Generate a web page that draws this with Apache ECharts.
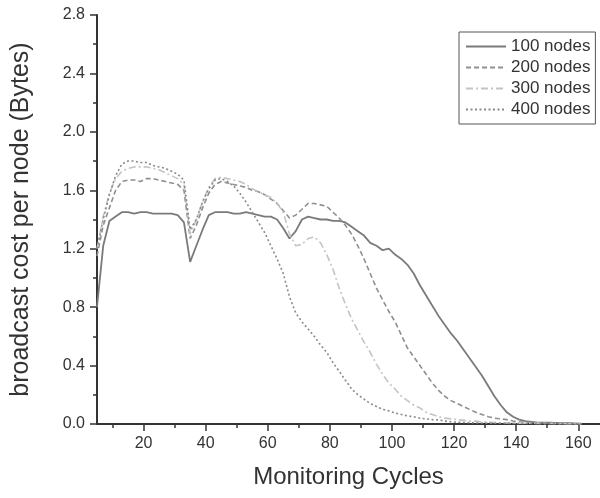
<!DOCTYPE html>
<html><head><meta charset="utf-8">
<script src="https://cdn.jsdelivr.net/npm/echarts@6/dist/echarts.min.js"></script>
<style>html,body{margin:0;padding:0;background:#fff}#c{width:600px;height:498px}</style>
</head><body><div id="c"></div>
<script>
const cycles = [5,7,9,11,13,15,17,19,21,23,25,27,29,31,33,35,37,39,41,43,45,47,49,51,53,55,57,59,61,63,65,67,69,71,73,75,77,79,81,83,85,87,89,91,93,95,97,99,101,103,105,107,109,111,113,115,117,119,121,123,125,127,129,131,133,135,137,139,141,143,145,147,149,151,153,155,157,159,161];
const nodes100 = [0.80,1.22,1.39,1.42,1.45,1.45,1.44,1.45,1.45,1.44,1.44,1.44,1.44,1.43,1.38,1.11,1.22,1.33,1.43,1.45,1.45,1.45,1.44,1.44,1.45,1.44,1.43,1.42,1.42,1.40,1.34,1.27,1.32,1.40,1.42,1.41,1.40,1.40,1.39,1.39,1.38,1.35,1.32,1.29,1.24,1.22,1.19,1.20,1.16,1.13,1.09,1.03,0.95,0.88,0.81,0.74,0.68,0.62,0.57,0.51,0.45,0.39,0.33,0.26,0.19,0.13,0.08,0.05,0.03,0.02,0.015,0.01,0.01,0.01,0.008,0.006,0.005,0.004,0.003];
const nodes200 = [1.15,1.36,1.48,1.60,1.66,1.67,1.67,1.66,1.68,1.68,1.67,1.66,1.65,1.64,1.60,1.27,1.36,1.48,1.58,1.64,1.66,1.65,1.64,1.63,1.62,1.60,1.59,1.57,1.54,1.51,1.46,1.41,1.43,1.47,1.51,1.51,1.50,1.49,1.45,1.41,1.36,1.30,1.22,1.13,1.03,0.93,0.85,0.77,0.70,0.61,0.52,0.46,0.40,0.34,0.28,0.23,0.19,0.16,0.14,0.12,0.10,0.08,0.065,0.05,0.04,0.035,0.03,0.02,0.015,0.012,0.01,0.008,0.006,0.005,0.004,0.003,0.003,0.002,0.002];
const nodes300 = [1.20,1.42,1.58,1.68,1.73,1.75,1.76,1.76,1.76,1.75,1.74,1.72,1.70,1.68,1.64,1.30,1.40,1.52,1.62,1.68,1.69,1.68,1.67,1.66,1.64,1.61,1.59,1.57,1.55,1.51,1.45,1.30,1.22,1.23,1.27,1.28,1.24,1.16,1.06,0.93,0.82,0.72,0.64,0.56,0.49,0.41,0.34,0.28,0.24,0.19,0.16,0.13,0.11,0.08,0.065,0.05,0.04,0.035,0.03,0.025,0.02,0.02,0.015,0.012,0.01,0.009,0.008,0.007,0.006,0.005,0.005,0.004,0.004,0.003,0.003,0.002,0.002,0.002,0.002];
const nodes400 = [1.20,1.40,1.57,1.70,1.78,1.80,1.80,1.79,1.79,1.77,1.76,1.75,1.73,1.71,1.67,1.33,1.40,1.52,1.61,1.67,1.68,1.66,1.63,1.58,1.52,1.45,1.38,1.31,1.22,1.13,1.03,0.87,0.76,0.70,0.65,0.60,0.54,0.49,0.42,0.36,0.30,0.24,0.20,0.17,0.14,0.12,0.10,0.09,0.075,0.065,0.055,0.05,0.04,0.035,0.03,0.028,0.02,0.015,0.012,0.01,0.009,0.008,0.007,0.006,0.005,0.005,0.004,0.004,0.003,0.003,0.003,0.002,0.002,0.002,0.002,0.002,0.001,0.001,0.001];
const seriesNames = ['100 nodes','200 nodes','300 nodes','400 nodes'];
const xLabelTicks = [20,40,60,80,100,120,140,160];
const xMinorTicks = [10,30,50,70,90,110,130,150];

const font = 'Liberation Sans, Arial, sans-serif';
const pair = arr => cycles.map((c,i)=>[c,arr[i]]);
const styles = [
  {color:'#7a7a7a', type:'solid', width:1.8},
  {color:'#8f8f8f', type:[5,3], width:1.6},
  {color:'#c4c4c4', type:[7,3,2,3], width:1.6},
  {color:'#8a8a8a', type:[2,2.5], width:1.6}
];
const datas = [nodes100,nodes200,nodes300,nodes400];
const chart = echarts.init(document.getElementById('c'));
chart.setOption({
  animation:false,
  backgroundColor:'#fff',
  grid:{left:97,right:0,top:15,bottom:74,containLabel:false},
  legend:{
    orient:'vertical', left:459, top:32,
    data:seriesNames,
    itemWidth:40, itemHeight:10, itemGap:4,
    padding:[6,5,6,6],
    borderColor:'#555', borderWidth:1,
    itemStyle:{opacity:0},
    textStyle:{fontFamily:font, fontSize:17, color:'#333'}
  },
  xAxis:[{
    type:'value', min:5, max:167,
    name:'Monitoring Cycles', nameLocation:'middle', nameGap:41,
    nameTextStyle:{fontFamily:font, fontSize:24, color:'#333'},
    axisLine:{show:true, onZero:false, lineStyle:{color:'#333', width:2}},
    axisTick:{show:true, length:7, customValues:xLabelTicks, lineStyle:{color:'#333', width:1.5}},
    axisLabel:{customValues:xLabelTicks, fontFamily:font, fontSize:16, color:'#333', margin:12},
    splitLine:{show:false}
  },{
    type:'value', min:5, max:167, position:'bottom',
    axisLine:{show:false},
    axisTick:{show:true, length:4, customValues:xMinorTicks, lineStyle:{color:'#333', width:1.5}},
    axisLabel:{show:false},
    splitLine:{show:false}
  }],
  yAxis:{
    type:'value', min:0, max:2.8, interval:0.4,
    name:'broadcast cost per node (Bytes)', nameLocation:'middle', nameGap:63,
    nameTextStyle:{fontFamily:font, fontSize:25, color:'#333', padding:[0,0,0,0]},
    axisLine:{show:true, lineStyle:{color:'#333', width:2}},
    axisTick:{show:true, length:7, lineStyle:{color:'#333', width:1.5}},
    minorTick:{show:true, splitNumber:2, length:4, lineStyle:{color:'#333', width:1.5}},
    axisLabel:{fontFamily:font, fontSize:16, color:'#333', margin:12, formatter:v=>v.toFixed(1)},
    splitLine:{show:false}
  },
  series: seriesNames.map((n,i)=>({
    name:n, type:'line', data:pair(datas[i]), symbol:'none', smooth:false,
    xAxisIndex:0,
    itemStyle:{color:styles[i].color},
    lineStyle:styles[i]
  }))
});
</script></body></html>
